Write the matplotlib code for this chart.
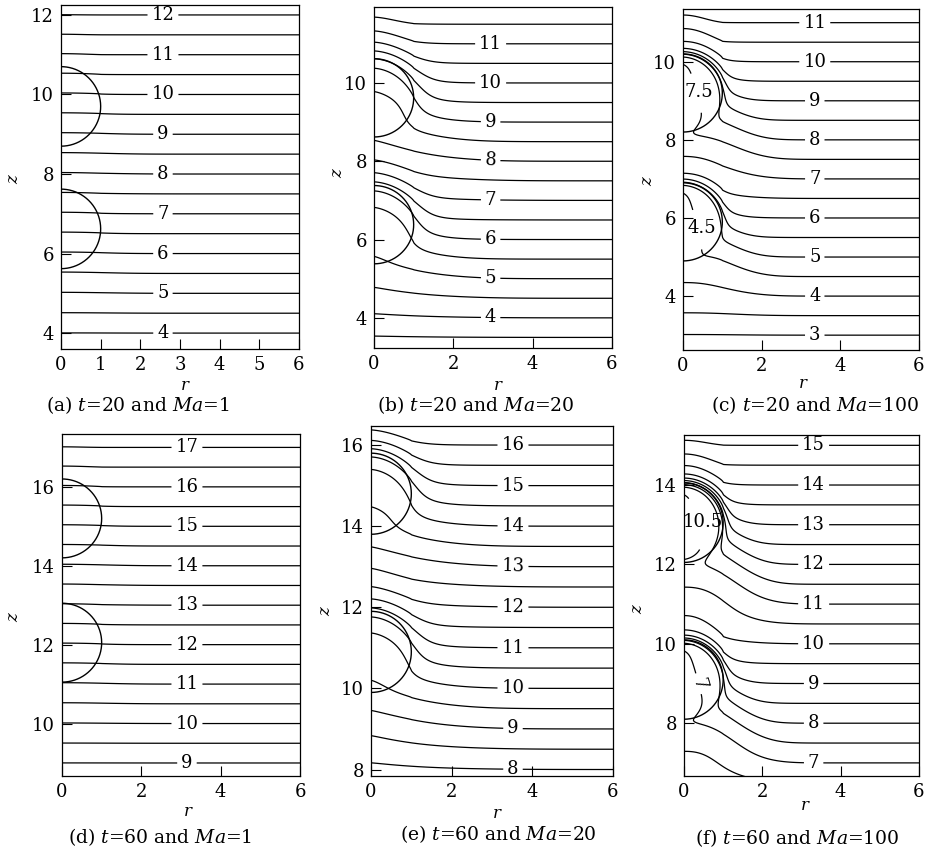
import numpy as np
import matplotlib.pyplot as plt

plt.rcParams['font.family'] = 'DejaVu Serif'
plt.rcParams['mathtext.fontset'] = 'dejavuserif'

W, H = 927, 852
fig = plt.figure(figsize=(W / 100, H / 100), dpi=100)

captions = [r'(a) $t$=20 and $Ma$=1', r'(b) $t$=20 and $Ma$=20', r'(c) $t$=20 and $Ma$=100',
            r'(d) $t$=60 and $Ma$=1', r'(e) $t$=60 and $Ma$=20', r'(f) $t$=60 and $Ma$=100']

# panel boxes in pixels: left, top, right, bottom
boxes = [(61, 5, 299, 349), (374, 7, 612, 348), (683, 9, 919, 350),
         (62, 434, 300, 776), (371, 426, 613, 776), (684, 435, 919, 776)]
z_ranges = [(3.6, 12.25), (3.23, 11.94), (2.62, 11.35),
            (8.67, 17.34), (7.84, 16.47), (6.67, 15.26)]
r_steps = [1, 2, 2, 2, 2, 2]

# two bubbles per panel (lower, upper centre heights), unit radius
bubble_centres = [(6.62, 9.7), (6.38, 9.62), (5.9, 9.2),
                  (12.05, 15.2), (10.9, 14.8), (9.1, 13.05)]
bubble_radius = 1.0

# cold wake dragged up along the axis
wake_depth = [0.04, 0.58, 0.65, 0.04, 0.6, 1.05]
wake_width = [1.5, 1.55, 1.7, 1.5, 1.55, 1.7]
wake_power = [2.0, 1.2, 2.5, 2.0, 1.2, 2.5]
wake_cap = [(0.6, 0.6), (0.6, 0.67), (0.6, 0.7), (0.6, 0.6), (0.6, 0.5), (0.45, 0.38)]
wake_len = [(0.8, 1.2), (0.6, 1.0), (0.6, 1.1), (0.8, 1.2), (1.2, 1.2), (1.2, 1.3)]
wake_soft = [0.4, 0.45, 0.35, 0.4, 0.55, 0.35]
side_slope = [1.0, 0.8, 1.0, 1.0, 0.8, 1.0]

# fluid carried inside the bubbles
core_mix = [0.0, 0.6, 0.9, 0.0, 0.6, 0.9]
core_temp = [(6.6, 9.6), (4.9, 8.0), (4.28, 7.24),
             (12.0, 15.2), (9.35, 13.2), (6.74, 10.19)]
core_slope = [0.0, 0.0, 0.4, 0.0, 0.0, 0.4]
edge_soft = [0.2, 0.4, 0.15, 0.2, 0.4, 0.15]

label_r = [2.57, 2.94, 3.35, 3.15, 3.52, 3.31]
inner_labels = [[], [], [(0.41, 9.22), (0.49, 5.74)],
                [], [], [(0.47, 13.07), (0.42, 9.01)]]
upright = [7.5, 4.5, 10.5]


def expit(x):
    return 1.0 / (1.0 + np.exp(-x))


def surface(r, c, slope):
    # top of the bubble, carried on down its flank
    rr = np.minimum(r, bubble_radius)
    top = c + np.sqrt(bubble_radius ** 2 - rr ** 2)
    return np.where(r <= bubble_radius, top, c - slope * (r - bubble_radius))


def temperature(i, r, z):
    lam = wake_soft[i]
    outside = np.ones_like(r)
    for k, c in enumerate(bubble_centres[i]):
        cap = wake_cap[i][k] * np.exp(-(r / 1.0) ** 2)
        upper = expit((surface(r, c, side_slope[i]) + cap - z) / lam)
        lower = expit((z - (c - bubble_radius - wake_len[i][k])) / lam)
        outside *= 1 - upper * lower
    across = np.exp(-(r / wake_width[i]) ** wake_power[i])
    T = z - wake_depth[i] * across * (1 - outside)
    for c, tc in zip(bubble_centres[i], core_temp[i]):
        rho = np.hypot(r, z - c)
        m = core_mix[i] * 0.5 * (1 - np.tanh((rho - bubble_radius) / edge_soft[i]))
        T = (1 - m) * T + m * (tc + core_slope[i] * r)
    return T


for i in range(6):
    l, t, rr, b = boxes[i]
    ax = fig.add_axes([l / W, 1 - b / H, (rr - l) / W, (b - t) / H])
    z0, z1 = z_ranges[i]
    r = np.linspace(0, 6, 400)
    z = np.linspace(z0 - 0.5, z1 + 0.5, 700)
    R, Z = np.meshgrid(r, z)
    T = temperature(i, R, Z)
    levels = np.arange(np.floor(z0) - 3, np.ceil(z1) + 1.01, 0.5)
    cs = ax.contour(R, Z, T, levels=levels, colors='k', linewidths=0.9)

    pos = [(label_r[i], v) for v in range(int(np.ceil(z0)), int(np.floor(z1)) + 1)]
    pos += inner_labels[i]
    texts = ax.clabel(cs, levels=cs.levels, manual=pos, inline=True, inline_spacing=4,
                      fmt=lambda v: f'{v:g}', fontsize=13)
    for txt, p in zip(texts, pos):
        if p in inner_labels[i] and float(txt.get_text()) in upright:
            txt.set_rotation(0)
            txt.set_position(p)

    th = np.linspace(-np.pi / 2, np.pi / 2, 200)
    for c in bubble_centres[i]:
        ax.plot(bubble_radius * np.cos(th), c + bubble_radius * np.sin(th),
                color='k', lw=1.0)

    ax.set_xlim(0, 6)
    ax.set_ylim(z0, z1)
    ax.set_xticks(np.arange(0, 6.01, r_steps[i]))
    ax.set_yticks(np.arange(np.ceil(z0 / 2) * 2, z1, 2))
    ax.tick_params(direction='in', length=7, width=0.8, labelsize=13)
    ax.tick_params(axis='x', pad=5)
    ax.tick_params(axis='y', pad=5)
    for s in ax.spines.values():
        s.set_linewidth(0.9)

# axis titles and captions, pixel positions
r_label_xy = [(185, 385), (498, 385), (803, 383), (188, 812), (497, 813), (805, 806)]
z_label_xy = [(13, 178), (338, 173), (647, 180), (13, 617), (326, 610), (637, 608)]
caption_xy = [(138, 405), (476, 405), (815, 405), (160, 837), (498, 834), (797, 838)]
for i in range(6):
    x, y = r_label_xy[i]
    fig.text(x / W, 1 - y / H, r'$r$', ha='center', va='center', fontsize=12)
    x, y = z_label_xy[i]
    fig.text(x / W, 1 - y / H, r'$z$', ha='center', va='center', fontsize=12, rotation=90)
    x, y = caption_xy[i]
    fig.text(x / W, 1 - y / H, captions[i], ha='center', va='center', fontsize=13.5)

fig.savefig('out.png', dpi=100)
